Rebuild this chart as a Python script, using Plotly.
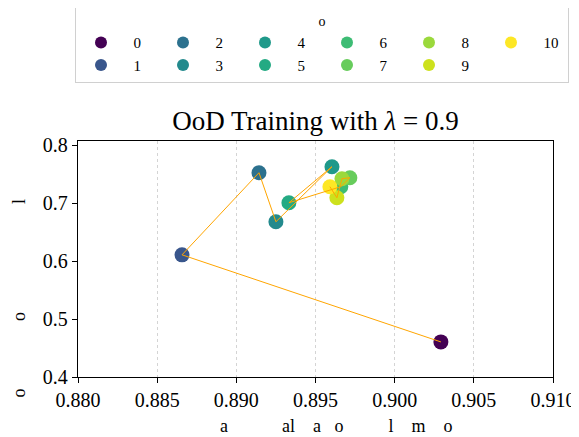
import plotly.graph_objects as go

# Data
labels = [0, 1, 2, 3, 4, 5, 6, 7, 8, 9, 10]
x_vals = [0.90292, 0.88657, 0.89143, 0.89250, 0.89604, 0.89332, 0.89660, 0.89717, 0.89667, 0.89635, 0.89591]
y_vals = [0.4605, 0.6107, 0.7523, 0.6677, 0.7627, 0.7005, 0.7282, 0.7437, 0.7420, 0.7092, 0.7282]
colors = ["#440154", "#39568c", "#2c718e", "#238a8d", "#1f998a", "#24aa83",
          "#3dbc74", "#67cc5c", "#9bd93c", "#cde11d", "#fde725"]
x_ticks = [0.880, 0.885, 0.890, 0.895, 0.900, 0.905, 0.910]
y_ticks = [0.4, 0.5, 0.6, 0.7, 0.8]

FONT = "Liberation Serif"
NB = "\u00a0"

# page has an 8px body margin: figure is 571x429 placed at (8, 8)
W, H = 571, 429
OFF = 8

fig = go.Figure()

# column-major legend order (2 rows x 6 columns)
col_major = [0, 2, 4, 6, 8, 10, 1, 3, 5, 7, 9]
for i, lab in enumerate(labels):
    fig.add_trace(go.Scatter(
        x=[x_vals[i]], y=[y_vals[i]], mode="markers",
        marker=dict(size=15, color=colors[i], line=dict(width=0)),
        name=NB * 2 + str(lab), legendrank=100 + col_major.index(i),
    ))

fig.add_trace(go.Scatter(
    x=x_vals, y=y_vals, mode="lines",
    line=dict(color="orange", width=1), showlegend=False, hoverinfo="skip",
))

xlabel = ("a" + NB * 12 + "al" + NB * 4 + "a" + NB * 3 + "o" + NB * 10 + "l"
          + NB * 4 + "m" + NB * 4 + "o")
ylabel = "o" + NB * 15 + "o" + NB * 24 + "l"

fig.update_layout(
    width=W, height=H,
    margin=dict(l=78 - OFF, r=W - (553 - OFF), t=141 - OFF, b=H - (377 - OFF), autoexpand=False),
    paper_bgcolor="white", plot_bgcolor="white",
    font=dict(family=FONT, color="black", size=17),
    title=dict(text="OoD Training with <i>λ</i> = 0.9", x=(315.5 - OFF) / W, xanchor="center",
               y=1 - (121 - OFF) / H, yanchor="middle", font=dict(size=27, family=FONT)),
    legend=dict(
        orientation="h",
        x=(569 - 78) / 475, xanchor="right",
        y=(377 - 7) / 236, yanchor="top",
        bordercolor="#d0d0d0", borderwidth=1, bgcolor="white",
        itemwidth=40,
        entrywidth=27, entrywidthmode="pixels",
        title=dict(text="o", side="top center", font=dict(size=14)),
        font=dict(size=15, family=FONT), itemsizing="constant",
        tracegroupgap=0,
    ),
    xaxis=dict(range=[0.880, 0.910], tickvals=x_ticks, tickformat=".3f",
               showgrid=True, gridcolor="#d4d4d4", griddash="dot", gridwidth=0.8,
               showline=True, mirror=True, linecolor="black", linewidth=1.3,
               ticks="outside", ticklen=5, tickcolor="black", zeroline=False,
               tickfont=dict(size=20)),
    yaxis=dict(range=[0.4, 0.807], tickvals=y_ticks, tickformat=".1f",
               showgrid=False,
               showline=True, mirror=True, linecolor="black", linewidth=1.3,
               ticks="outside", ticklen=5, tickcolor="black", zeroline=False,
               tickfont=dict(size=20)),
    annotations=[
        dict(text=xlabel, xref="paper", yref="paper", x=(336 - 78) / 475,
             y=(377 - 426) / 236, xanchor="center", yanchor="middle",
             showarrow=False, font=dict(size=18, family=FONT)),
        dict(text=ylabel, xref="paper", yref="paper", x=(18 - 78) / 475,
             y=(377 - 298.5) / 236, xanchor="center", yanchor="middle",
             textangle=-90, showarrow=False, font=dict(size=18, family=FONT)),
    ],
)

fig.write_html("out.html")
